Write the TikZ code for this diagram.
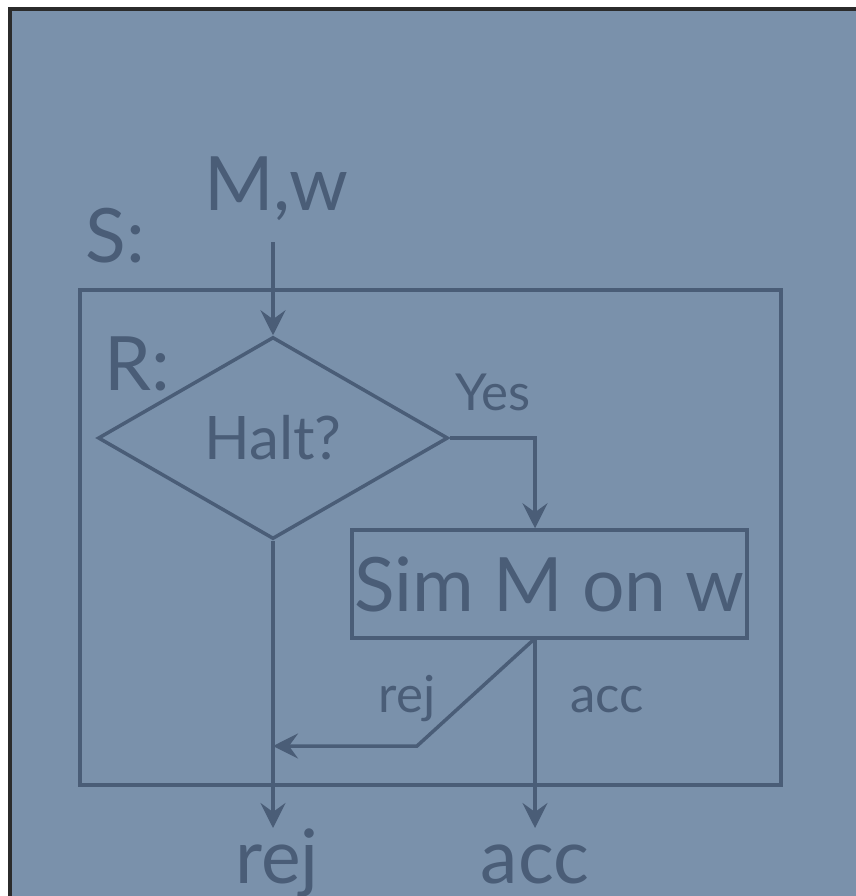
\documentclass[tikz,border=0pt]{standalone}
\usepackage{fontspec}
\setmainfont{Lato}
\usetikzlibrary{shapes.geometric,arrows.meta,calc}
\definecolor{bgblue}{RGB}{122,145,171}
\definecolor{ink}{RGB}{74,93,119}
\definecolor{framedark}{RGB}{43,43,43}
\newcommand{\figbig}{\fontsize{75}{80}\selectfont}
\newcommand{\fighalt}{\fontsize{60}{64}\selectfont}
\newcommand{\figsmall}{\fontsize{51}{56}\selectfont}
\begin{document}
\begin{tikzpicture}[x=1pt,y=-1pt,
  txt/.style={inner sep=0pt, anchor=base, text=ink},
  wire/.style={draw=ink, line width=3.5pt},
  arr/.style={-{Stealth[length=25pt,width=25pt,inset=9pt]}},
  boxstyle/.style={draw=ink, line width=3.5pt, inner sep=0pt, text=ink}]
\useasboundingbox (0,0) rectangle (855,896);
\fill[white] (-10,-10) rectangle (870,910);
\fill[framedark] (8,7) rectangle (870,910);
\fill[bgblue] (12,11) rectangle (870,910);

% outer machine S
\node[boxstyle, rectangle, minimum width=701pt, minimum height=495pt] (sbox) at (430.5,537.5) {};
% decision
\node[boxstyle, diamond, minimum width=350pt, minimum height=202pt, text height=43pt, text depth=0pt, font=\fighalt] (halt) at (273,438) {Halt?};
% simulation box
\node[boxstyle, rectangle, minimum width=395pt, minimum height=108pt, text height=54pt, text depth=0pt, font=\figbig] (sim) at (549.5,584) {Sim M on w};

% labels
\node[txt, font=\figbig] (inp) at (276,211) {M,w};
\node[txt, font=\figbig] (slab) at (115,262) {S:};
\node[txt, font=\figbig] (rlab) at (137,390) {R:};
\node[txt, font=\figsmall] (yes) at (493,410) {Yes};
\node[txt, font=\figsmall] (rejl) at (407,712) {rej};
\node[txt, font=\figsmall] (accl) at (607,712) {acc};
\node[txt, font=\figbig] (rejout) at (277,883) {rej};
\node[txt, font=\figbig] (accout) at (535,883) {acc};

% connector points
\coordinate (instart) at (273,242);
\coordinate (rejtip) at (273,828);
\coordinate (acctip) at (535,828);
\coordinate (bend) at (417,746);

% connectors
\draw[wire, arr] (instart) -- (halt.north);
\draw[wire, arr] (halt.east) -| ([xshift=-14.5pt]sim.north);
\draw[wire, arr] ([xshift=-14.5pt]sim.south) -- (acctip);
\draw[wire, arr, shorten >=-2pt] ([xshift=-16pt]sim.south) -- (bend) -- ($(halt.south |- bend)+(2,0)$);
\draw[wire, arr] (halt.south) -- (rejtip);
\end{tikzpicture}
\end{document}
